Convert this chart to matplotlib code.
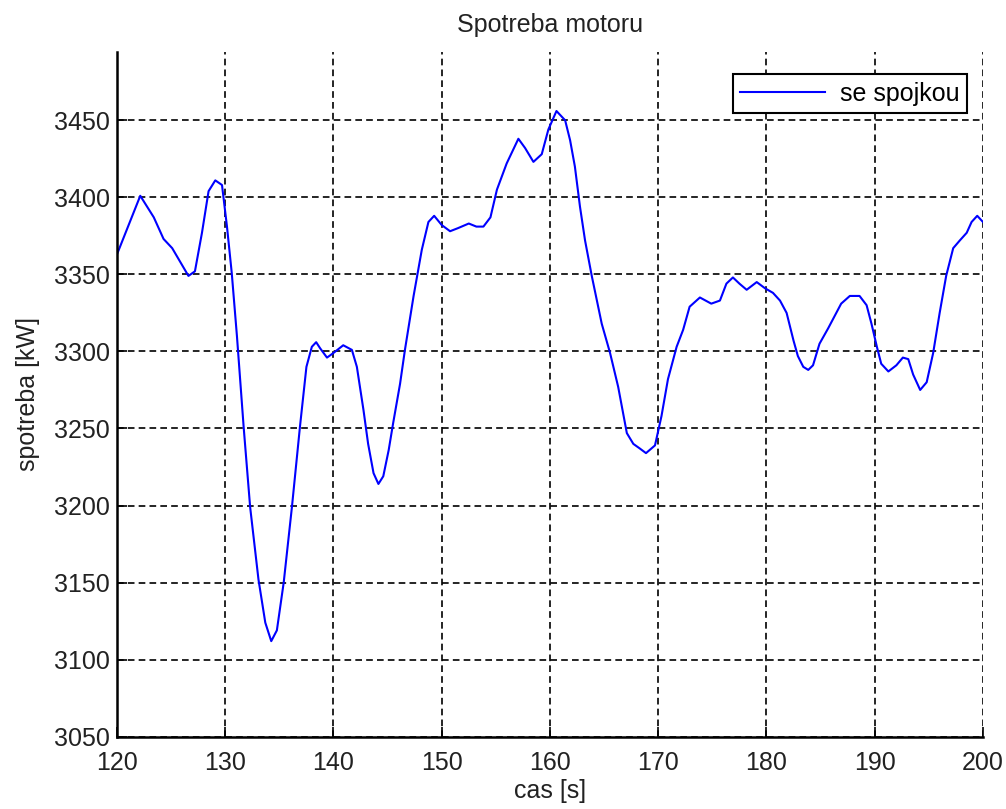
import matplotlib
matplotlib.use("Agg")
import matplotlib.pyplot as plt

# time [s]
cas = [120.0, 122.15, 123.4, 124.3, 125.1, 126.6, 127.2, 127.85, 128.46, 129.08,
       129.7, 130.16, 130.6, 131.08, 131.7, 132.3, 133.07, 133.7, 134.25, 134.77,
       135.4, 136.16, 136.9, 137.5, 138.0, 138.4, 138.77, 139.4, 140.0, 140.9,
       141.7, 142.16, 142.77, 143.2, 143.7, 144.15, 144.6, 145.1, 145.5, 146.15,
       146.6, 147.4, 148.16, 148.77, 149.3, 150.0, 150.77, 151.5, 152.5, 153.2,
       153.85, 154.5, 155.1, 156.0, 157.08, 157.7, 158.47, 159.24, 159.85, 160.6,
       161.4, 161.86, 162.3, 162.77, 163.24, 163.86, 164.78, 165.55, 166.3, 167.1,
       167.7, 168.3, 168.87, 169.7, 170.3, 170.9, 171.7, 172.3, 172.9, 173.85,
       174.9, 175.7, 176.3, 176.9, 177.5, 178.17, 179.1, 179.86, 180.6, 181.25,
       181.86, 182.5, 182.9, 183.4, 183.86, 184.3, 184.9, 185.7, 186.3, 186.9,
       187.7, 188.6, 189.25, 189.7, 190.2, 190.6, 191.26, 192.0, 192.6, 193.1,
       193.55, 194.2, 194.8, 195.4, 196.0, 196.6, 197.25, 197.86, 198.5, 198.95,
       199.47, 200.0]
# consumption [kW]
spotreba = [3363, 3401, 3387, 3373, 3367, 3349, 3352, 3377, 3404, 3411,
            3408, 3381, 3351, 3310, 3251, 3199, 3152, 3124, 3112, 3119,
            3150, 3199, 3251, 3290, 3303, 3306, 3302, 3296, 3299, 3304,
            3301, 3290, 3262, 3240, 3221, 3214, 3219, 3236, 3253, 3279,
            3301, 3336, 3366, 3384, 3388, 3382, 3378, 3380, 3383, 3381,
            3381, 3387, 3405, 3422, 3438, 3432, 3423, 3428, 3444, 3456,
            3450, 3437, 3420, 3394, 3372, 3349, 3318, 3299, 3277, 3247,
            3240, 3237, 3234, 3239, 3258, 3282, 3303, 3314, 3329, 3335,
            3331, 3333, 3344, 3348, 3344, 3340, 3345, 3341, 3338, 3333,
            3325, 3307, 3297, 3290, 3288, 3291, 3305, 3315, 3323, 3331,
            3336, 3336, 3330, 3318, 3303, 3292, 3287, 3291, 3296, 3295,
            3285, 3275, 3280, 3299, 3325, 3349, 3367, 3372, 3377, 3384,
            3388, 3384]

xticks = [120, 130, 140, 150, 160, 170, 180, 190, 200]
yticks = [3050, 3100, 3150, 3200, 3250, 3300, 3350, 3400, 3450]

plt.rcParams['font.family'] = ['Liberation Sans', 'DejaVu Sans']
fs = 18

fig = plt.figure(figsize=(10.06, 8.09), dpi=100)
ax = fig.add_axes([0.1163, 0.0894, 0.8608, 0.8467])

ax.plot(cas, spotreba, color=(0, 0, 1), lw=1.5, label='se spojkou')

ax.set_xlim(120, 200)
ax.set_ylim(3050, 3494.5)
ax.set_xticks(xticks)
ax.set_yticks(yticks)
ax.tick_params(direction='in', length=7, width=1.2, labelsize=fs, colors='black')
ax.tick_params(axis='x', pad=10)
ax.tick_params(axis='y', pad=5)
for lab in ax.get_xticklabels() + ax.get_yticklabels():
    lab.set_color('#222222')

ax.grid(True, color='black', linestyle=(0, (4, 2.5)), linewidth=1.2)
ax.spines['top'].set_visible(False)
ax.spines['right'].set_visible(False)
ax.spines['left'].set_linewidth(1.8)
ax.spines['bottom'].set_linewidth(1.8)

ax.set_title('Spotreba motoru', fontsize=fs, pad=14, color='#222222')
ax.set_xlabel('cas [s]', fontsize=fs, labelpad=3, color='#222222')
ax.set_ylabel('spotreba [kW]', fontsize=fs, labelpad=10, color='#222222')

leg = ax.legend(loc='upper right', bbox_to_anchor=(0.9965, 0.985), fontsize=fs,
                frameon=True, fancybox=False, edgecolor='black', framealpha=1,
                handlelength=3.4, borderpad=0.3, handletextpad=0.6)
leg.get_frame().set_linewidth(1.5)

fig.savefig('out.png', dpi=100)
